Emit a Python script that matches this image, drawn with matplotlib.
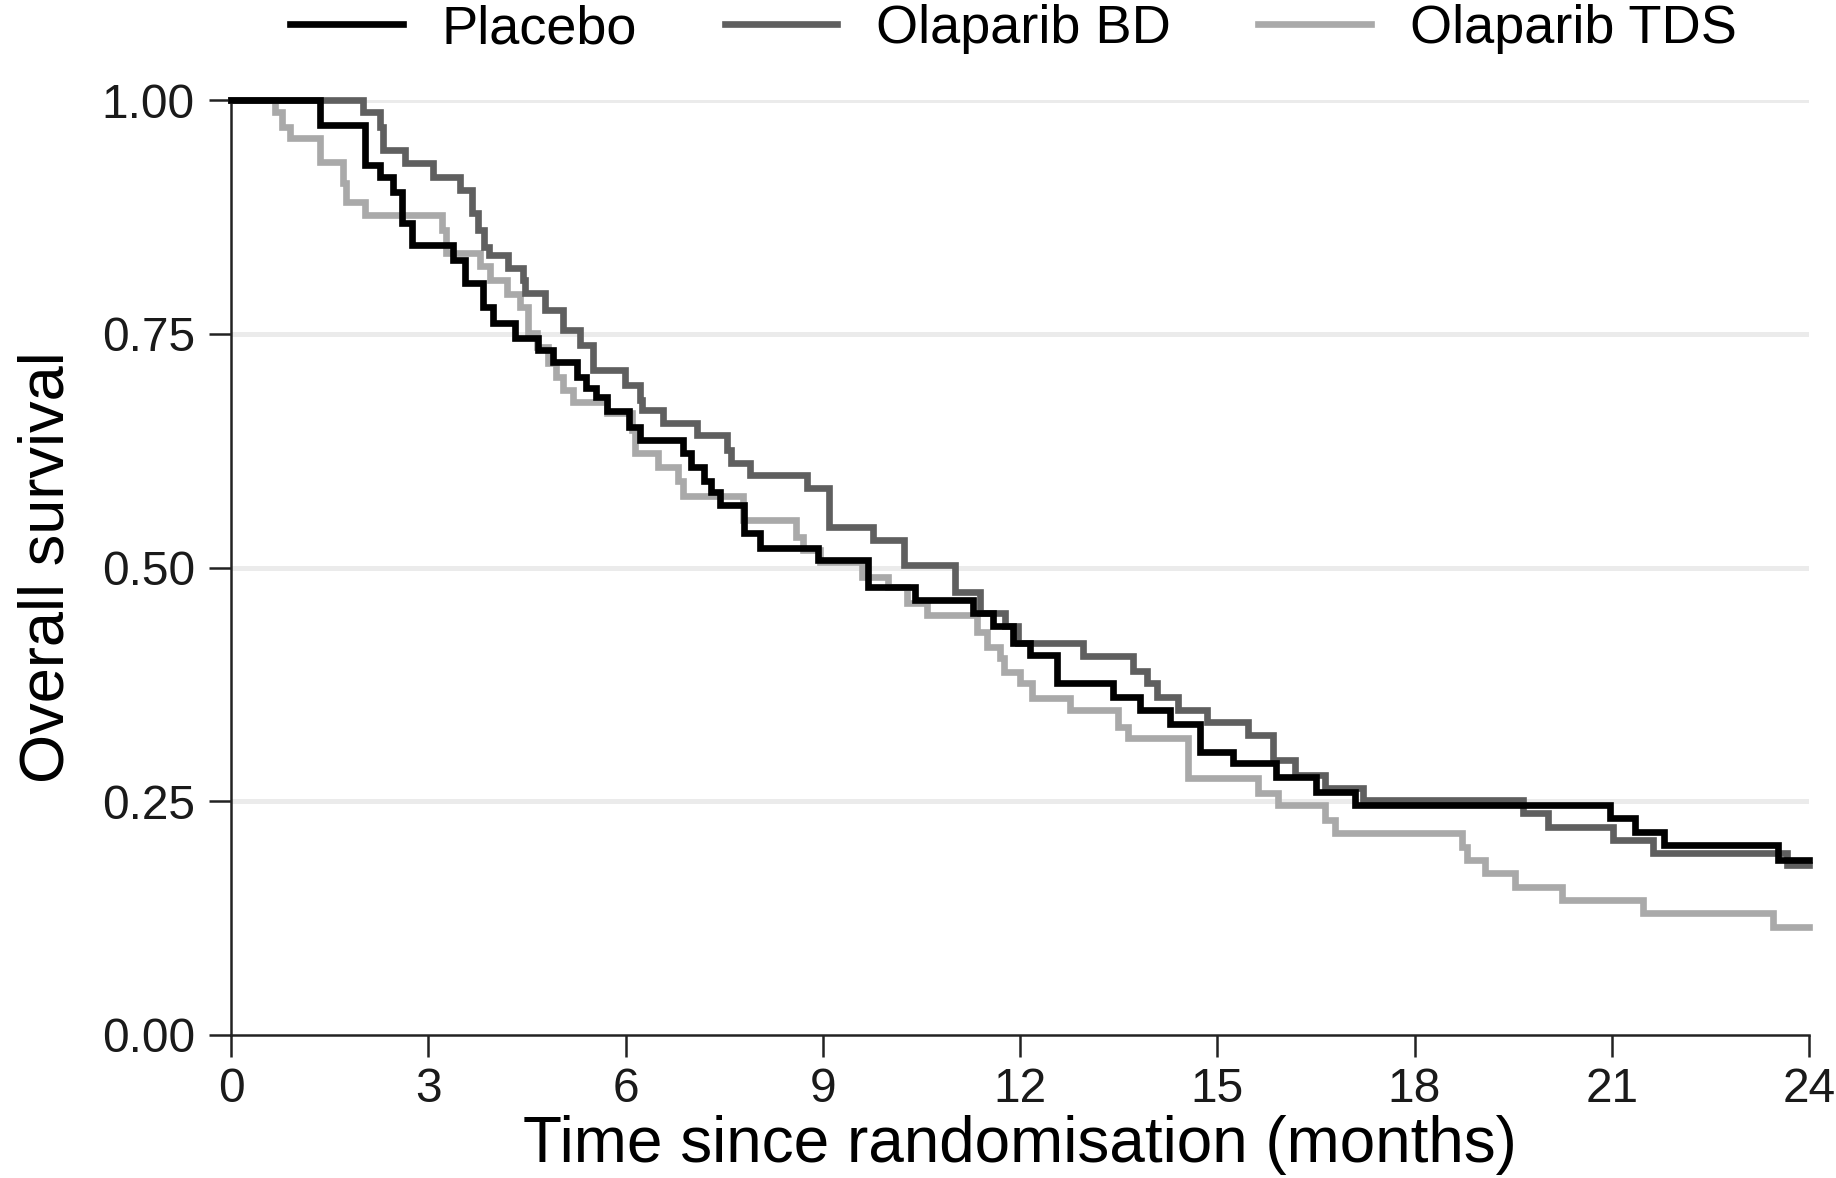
import matplotlib
matplotlib.use("Agg")
import matplotlib.pyplot as plt

plt.rcParams['font.family'] = ['Liberation Sans', 'DejaVu Sans']

# ---- data (Kaplan-Meier step change points) ----
placebo_t = [0, 1.35, 2.04, 2.27, 2.47, 2.60, 2.75, 3.38, 3.56, 3.83, 3.99, 4.32, 4.67,
             4.90, 5.26, 5.40, 5.55, 5.72, 6.05, 6.22, 6.87, 7.00, 7.20, 7.30, 7.44,
             7.80, 8.05, 8.93, 9.69, 10.40, 11.29, 11.59, 11.90, 12.15, 12.56, 13.42,
             13.83, 14.28, 14.74, 15.24, 15.90, 16.50, 17.10, 20.97, 21.35, 21.80,
             23.53, 24.0]
placebo_s = [1.0, 0.973, 0.930, 0.918, 0.902, 0.868, 0.845, 0.829, 0.804, 0.779, 0.761,
             0.745, 0.733, 0.720, 0.704, 0.692, 0.682, 0.667, 0.650, 0.636, 0.622, 0.607,
             0.593, 0.581, 0.567, 0.537, 0.521, 0.508, 0.479, 0.465, 0.451, 0.437,
             0.419, 0.406, 0.376, 0.362, 0.348, 0.333, 0.303, 0.291, 0.276, 0.260,
             0.246, 0.232, 0.217, 0.203, 0.187, 0.187]

bd_t = [0, 2.00, 2.27, 2.31, 2.65, 3.07, 3.48, 3.66, 3.75, 3.85, 3.92, 4.21, 4.44, 4.47,
        4.78, 5.05, 5.31, 5.51, 5.99, 6.22, 6.25, 6.57, 7.09, 7.54, 7.60, 7.89, 8.76,
        9.10, 9.77, 10.23, 11.01, 11.39, 11.77, 11.97, 12.96, 13.72, 13.93, 14.08,
        14.40, 14.84, 15.47, 15.85, 16.18, 16.64, 17.22, 19.65, 20.03, 21.02, 21.63,
        23.67, 24.0]
bd_s = [1.0, 0.987, 0.971, 0.947, 0.933, 0.918, 0.904, 0.879, 0.861, 0.843, 0.834, 0.820,
        0.808, 0.794, 0.775, 0.754, 0.738, 0.711, 0.695, 0.679, 0.668, 0.655, 0.642,
        0.626, 0.612, 0.599, 0.585, 0.543, 0.529, 0.503, 0.474, 0.451, 0.437, 0.419,
        0.405, 0.389, 0.376, 0.362, 0.348, 0.335, 0.321, 0.294, 0.278, 0.264, 0.251,
        0.237, 0.222, 0.209, 0.195, 0.182, 0.182]

tds_t = [0, 0.67, 0.77, 0.90, 1.35, 1.70, 1.75, 2.04, 3.21, 3.27, 3.79, 3.94, 4.20, 4.40,
         4.52, 4.65, 4.82, 4.95, 5.05, 5.20, 5.72, 6.10, 6.15, 6.50, 6.80, 6.87, 7.79,
         8.60, 8.70, 8.96, 9.59, 9.99, 10.28, 10.58, 11.35, 11.50, 11.70, 11.75, 12.00,
         12.18, 12.76, 13.49, 13.64, 14.55, 15.62, 15.92, 16.64, 16.79, 18.72, 18.80,
         19.07, 19.53, 20.24, 21.48, 23.45, 24.0]
tds_s = [1.0, 0.987, 0.971, 0.959, 0.934, 0.911, 0.891, 0.877, 0.861, 0.836, 0.822, 0.808,
         0.793, 0.779, 0.751, 0.736, 0.719, 0.704, 0.690, 0.677, 0.665, 0.647, 0.622,
         0.608, 0.592, 0.576, 0.551, 0.533, 0.519, 0.506, 0.490, 0.479, 0.462, 0.449,
         0.431, 0.415, 0.403, 0.388, 0.376, 0.360, 0.348, 0.329, 0.318, 0.275, 0.259,
         0.246, 0.230, 0.216, 0.201, 0.187, 0.173, 0.158, 0.144, 0.130, 0.116, 0.116]

labels = ["Placebo", "Olaparib BD", "Olaparib TDS"]
colors = ["#000000", "#5f5f5f", "#a9a9a9"]
xticks = [0, 3, 6, 9, 12, 15, 18, 21, 24]
yticks = [0.00, 0.25, 0.50, 0.75, 1.00]

# ---- figure ----
fig = plt.figure(figsize=(18.36, 11.78), dpi=100)
ax = fig.add_axes([231/1836, 1 - 1035/1178, (1809-231)/1836, (1035-100)/1178])

series = [(placebo_t, placebo_s), (bd_t, bd_s), (tds_t, tds_s)]
order = [2, 1, 0]
handles = {}
for i in order:
    t, s = series[i]
    ln, = ax.step(t, s, where='post', color=colors[i], lw=4.8, label=labels[i],
                  clip_on=False, zorder=3 + (2 - i) * 0.1 + (i == 0) * 0.5,
                  solid_joinstyle='miter')
    handles[i] = ln

ax.set_xlim(0, 24)
ax.set_ylim(0, 1)
ax.set_xticks(xticks)
ax.set_xticklabels([str(x) for x in xticks])
ax.set_yticks(yticks)
ax.set_yticklabels([f"{y:.2f}" for y in yticks])

for g in yticks[1:]:
    ax.axhline(g, color="#ebebeb", lw=3.6, zorder=1)

for sp in ["top", "right"]:
    ax.spines[sp].set_visible(False)
for sp in ["left", "bottom"]:
    ax.spines[sp].set_linewidth(1.8)
    ax.spines[sp].set_color("#222222")

ax.tick_params(axis='both', direction='out', length=16, width=1.8, color="#222222",
               labelsize=34.5, labelcolor="#1a1a1a")
ax.tick_params(axis='x', pad=7)
ax.tick_params(axis='y', pad=10)

ax.set_xlabel("Time since randomisation (months)", fontsize=46, labelpad=2)
ax.set_ylabel("Overall survival", fontsize=45.5, labelpad=18)

leg = fig.legend([handles[0], handles[1], handles[2]], labels, loc='center',
                 bbox_to_anchor=(0.552, 1 - 29/1178), ncol=3, frameon=False,
                 fontsize=39, handlelength=2.07, handletextpad=0.72, columnspacing=1.62)
for ln in leg.get_lines():
    ln.set_linewidth(4.8)

fig.savefig("out.png", dpi=100)
